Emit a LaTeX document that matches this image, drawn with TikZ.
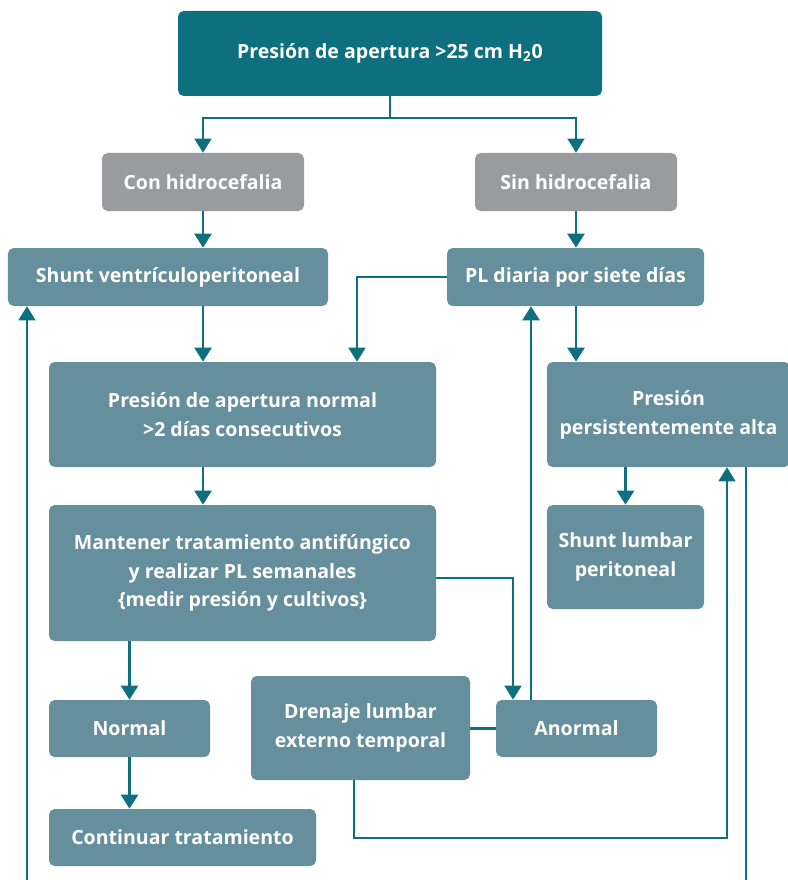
\documentclass[tikz,border=0pt]{standalone}
\usepackage{fontspec}
\setmainfont{Open Sans}
\usetikzlibrary{arrows.meta, positioning}
\definecolor{csfteal}{RGB}{14, 111, 126}
\definecolor{csfblue}{RGB}{102, 143, 158}
\definecolor{csfgray}{RGB}{154, 155, 159}

\begin{document}
\begin{tikzpicture}[
    box/.style={fill=csfblue, rounded corners=4pt, text=white, align=center, inner sep=0pt,
        font=\fontsize{13.9}{20.5}\selectfont\bfseries},
    greybox/.style={box, fill=csfgray},
    link/.style={-{Triangle[width=12pt, length=10pt]}, line width=2pt, csfteal},
    thinlink/.style={link, line width=1.4pt},
    plain/.style={line width=2pt, csfteal},
    thinplain/.style={line width=1.2pt, csfteal}
]
    \useasboundingbox (0,0) rectangle (19.7,-22);

    % boxes
    \node[box, fill=csfteal, minimum width=10.6cm, minimum height=2.125cm] (top) at (9.75,-1.3375) {Presión de apertura >25 cm H\textsubscript{2}0};
    \node[greybox, minimum width=5.05cm, minimum height=1.45cm] (con) at (5.075,-4.55) {Con hidrocefalia};
    \node[greybox, minimum width=5.05cm, minimum height=1.45cm] (sin) at (14.4,-4.55) {Sin hidrocefalia};
    \node[box, minimum width=8cm, minimum height=1.45cm] (shuntv) at (4.2,-6.925) {Shunt ventrículoperitoneal};
    \node[box, minimum width=6.425cm, minimum height=1.45cm] (pl) at (14.3875,-6.925) {PL diaria por siete días};
    \node[box, minimum width=9.675cm, minimum height=2.625cm] (pan) at (6.0625,-10.3625) {Presión de apertura normal\\ >2 días consecutivos};
    \node[box, minimum width=6.075cm, minimum height=2.625cm] (ppa) at (16.7125,-10.3625) {Presión\\ persistentemente alta};
    \node[box, minimum width=9.675cm, minimum height=3.4cm] (mant) at (6.0625,-14.325) {Mantener tratamiento antifúngico\\ y realizar PL semanales\\ \{medir presión y cultivos\}};
    \node[box, minimum width=3.925cm, minimum height=2.6cm] (slp) at (15.6375,-13.925) {Shunt lumbar\\ peritoneal};
    \node[box, minimum width=4.025cm, minimum height=1.425cm] (normal) at (3.2375,-18.2125) {Normal};
    \node[box, minimum width=5.475cm, minimum height=2.6cm] (dren) at (9.0125,-18.2) {Drenaje lumbar\\ externo temporal};
    \node[box, minimum width=4.025cm, minimum height=1.425cm] (anormal) at (14.4125,-18.2125) {Anormal};
    \node[box, minimum width=6.675cm, minimum height=1.425cm] (cont) at (4.5625,-20.9375) {Continuar tratamiento};

    % free ends
    \coordinate (split) at (9.75,-2.95);
    \coordinate (loopr) at (18.175,-20.95);
    \coordinate (leftend) at (0.675,-22);
    \coordinate (rightend) at (18.65,-22);

    % connectors
    \draw[plain] (top) -- (split);
    \draw[thinlink] (split) -| (con);
    \draw[thinlink] (split) -| (sin);
    \draw[link] (con) -- (shuntv.north -| con);
    \draw[link] (sin) -- (pl.north -| sin);
    \draw[link] (shuntv.south -| con) -- (pan.north -| con);
    \draw[thinlink] (pl.west) -| ([xshift=2.8625cm]pan.north);
    \draw[link] (pl.south -| sin) -- (ppa.north -| sin);
    \draw[link] (pan.south -| con) -- (mant.north -| con);
    \draw[link] (ppa.south -| slp) -- (slp.north);
    \draw[thinlink] ([yshift=-0.125cm]mant.east) -| ([xshift=-1.5875cm]anormal.north);
    \draw[link] (mant.south -| normal) -- (normal.north);
    \draw[link] (normal) -- (cont.north -| normal);
    \draw[link] ([xshift=-1.1375cm]anormal.north) -- ([xshift=-1.1375cm]anormal.north |- pl.south);
    \draw[plain] (anormal.west -| dren.east) -- (anormal.west);
    \draw[thinlink] ([xshift=-0.1625cm]dren.south) |- (loopr) -- (loopr |- ppa.south);
    \draw[thinlink] (leftend) -- (leftend |- shuntv.south);
    \draw[thinplain] (rightend |- ppa.south) -- (rightend);
\end{tikzpicture}
\end{document}
